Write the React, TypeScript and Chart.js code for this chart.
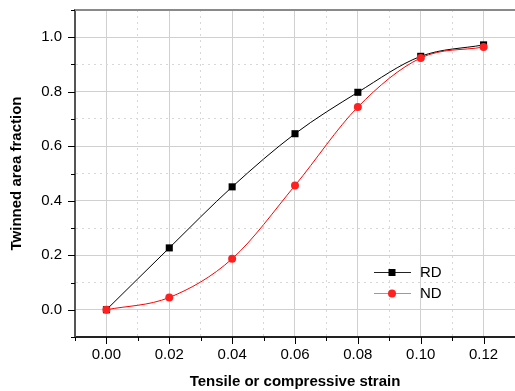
import React, { useEffect, useRef } from "react";
import { Chart, registerables } from "chart.js";

Chart.register(...registerables);

const strain = [0.0, 0.02, 0.04, 0.06, 0.08, 0.1, 0.12];
const rdValues = [0.0, 0.227, 0.451, 0.646, 0.798, 0.93, 0.972];
const ndValues = [0.0, 0.045, 0.187, 0.456, 0.744, 0.924, 0.964];
const seriesLabels = ["RD", "ND"];
const xTitle = "Tensile or compressive strain";
const yTitle = "Twinned area fraction";

const FONT = "'Liberation Sans', Arial, sans-serif";

const isMajor = (v: number, unit: number) => Math.round(v / unit) % 2 === 0;

const framePlugin = {
  id: "frame",
  afterDraw(chart: any) {
    const { ctx, chartArea } = chart;
    const xs = chart.scales.x;
    const ys = chart.scales.y;
    ctx.save();
    // top frame line
    ctx.strokeStyle = "#8a8a8a";
    ctx.lineWidth = 2;
    ctx.beginPath();
    ctx.moveTo(chartArea.left, chartArea.top);
    ctx.lineTo(chartArea.right, chartArea.top);
    ctx.stroke();
    // tick marks
    ctx.strokeStyle = "#000";
    ctx.lineWidth = 1;
    xs.ticks.forEach((t: any) => {
      const px = Math.round(xs.getPixelForValue(t.value)) + 0.5;
      const len = isMajor(t.value, 0.01) ? 7 : 4;
      ctx.beginPath();
      ctx.moveTo(px, chartArea.bottom);
      ctx.lineTo(px, chartArea.bottom + len);
      ctx.stroke();
    });
    ys.ticks.forEach((t: any) => {
      const py = Math.round(ys.getPixelForValue(t.value)) + 0.5;
      const len = isMajor(t.value, 0.1) ? 7 : 4;
      ctx.beginPath();
      ctx.moveTo(chartArea.left, py);
      ctx.lineTo(chartArea.left - len, py);
      ctx.stroke();
    });
    // legend
    const items = chart.data.datasets
      .map((d: any) => d)
      .sort((a: any, b: any) => seriesLabels.indexOf(a.label) - seriesLabels.indexOf(b.label));
    const lx0 = 374, lx1 = 411, mx = 392, tx = 420;
    const ly = [272, 293];
    items.forEach((d: any, i: number) => {
      const y = ly[i];
      ctx.strokeStyle = d.legendLineColor;
      ctx.lineWidth = 1;
      ctx.beginPath();
      ctx.moveTo(lx0, y + 0.5);
      ctx.lineTo(lx1, y + 0.5);
      ctx.stroke();
      ctx.fillStyle = d.pointBackgroundColor;
      if (d.pointStyle === "rect") {
        ctx.fillRect(mx - 3.5, y - 3, 7, 7);
      } else {
        ctx.beginPath();
        ctx.arc(mx, y + 0.5, 4, 0, Math.PI * 2);
        ctx.fill();
      }
      ctx.fillStyle = "#000";
      ctx.font = `15px ${FONT}`;
      ctx.textBaseline = "middle";
      ctx.textAlign = "left";
      ctx.fillText(d.label, tx, y + 1);
    });
    ctx.restore();
  },
};

export default function App() {
  const ref = useRef<HTMLCanvasElement | null>(null);

  useEffect(() => {
    if (!ref.current) return;
    const chart = new Chart(ref.current, {
      type: "line",
      data: {
        datasets: [
          {
            label: seriesLabels[0],
            data: strain.map((x, i) => ({ x, y: rdValues[i] })),
            borderColor: "#000000",
            backgroundColor: "#000000",
            pointBackgroundColor: "#000000",
            pointBorderColor: "#000000",
            legendLineColor: "#222222",
            pointStyle: "rect",
            pointRadius: 5,
            pointBorderWidth: 0,
            borderWidth: 1,
            cubicInterpolationMode: "monotone",
            order: 1,
          },
          {
            label: seriesLabels[1],
            data: strain.map((x, i) => ({ x, y: ndValues[i] })),
            borderColor: "#ff0000",
            backgroundColor: "#ff2020",
            pointBackgroundColor: "#ff2020",
            pointBorderColor: "#ff2020",
            legendLineColor: "#ff7070",
            pointStyle: "circle",
            pointRadius: 4,
            pointBorderWidth: 0,
            borderWidth: 1,
            cubicInterpolationMode: "monotone",
            order: 0,
          },
        ],
      },
      options: {
        animation: false,
        responsive: false,
        devicePixelRatio: 1,
        layout: { padding: { top: 10, left: 0, right: 0, bottom: 0 } },
        plugins: {
          legend: { display: false },
          tooltip: { enabled: false },
        },
        scales: {
          x: {
            type: "linear",
            min: -0.01,
            max: 0.13,
            afterFit: (s: any) => {
              s.height = 54;
              s.paddingLeft = 0;
              s.paddingRight = 0;
            },
            ticks: {
              stepSize: 0.01,
              autoSkip: false,
              maxRotation: 0,
              padding: 2,
              color: "#000",
              font: { family: FONT, size: 15 },
              callback: (v: any) => (isMajor(Number(v), 0.01) ? Number(v).toFixed(2) : ""),
            },
            grid: {
              color: (c: any) => (c.tick && isMajor(c.tick.value, 0.01) ? "#d0d0d0" : "#d8d8d8"),
              lineWidth: 1,
              tickColor: "transparent",
              tickLength: 7,
            },
            border: {
              color: "#222",
              width: 2,
              dash: (c: any) => (c.tick && isMajor(c.tick.value, 0.01) ? [] : [2, 4]),
            },
            title: {
              display: true,
              text: xTitle,
              color: "#000",
              font: { family: FONT, size: 15, weight: "bold" },
              padding: { top: 0, bottom: 0.5 },
            },
          },
          y: {
            type: "linear",
            min: -0.1,
            max: 1.1,
            afterFit: (s: any) => {
              s.width = 75;
              s.paddingTop = 0;
              s.paddingBottom = 0;
            },
            ticks: {
              stepSize: 0.1,
              autoSkip: false,
              padding: 6,
              color: "#000",
              font: { family: FONT, size: 15 },
              callback: (v: any) => (isMajor(Number(v), 0.1) ? Number(v).toFixed(1) : ""),
            },
            grid: {
              color: (c: any) => (c.tick && isMajor(c.tick.value, 0.1) ? "#d0d0d0" : "#d8d8d8"),
              lineWidth: 1,
              tickColor: "transparent",
              tickLength: 7,
            },
            border: {
              color: "#555",
              width: 2,
              dash: (c: any) => (c.tick && isMajor(c.tick.value, 0.1) ? [] : [2, 4]),
            },
            title: {
              display: true,
              text: yTitle,
              color: "#000",
              font: { family: FONT, size: 15, weight: "bold" },
              padding: { top: 8, bottom: 0 },
            },
          },
        },
      },
      plugins: [framePlugin],
    } as any);
    return () => chart.destroy();
  }, []);

  return (
    <div
      style={{
        position: "fixed",
        left: 0,
        top: 0,
        width: 515,
        height: 391,
        overflow: "hidden",
        background: "#fff",
      }}
    >
      <canvas ref={ref} width={520} height={391} style={{ display: "block" }} />
    </div>
  );
}
